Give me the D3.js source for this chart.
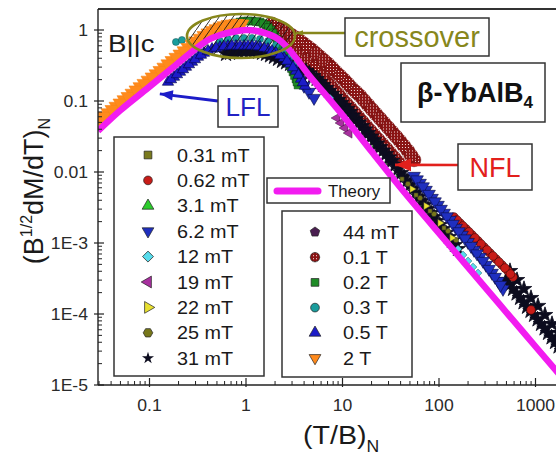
<!DOCTYPE html>
<html>
<head>
<meta charset="utf-8">
<script src="https://cdn.jsdelivr.net/npm/d3@7"></script>
<style>
  body { margin: 0; background: #fff; }
  svg { display: block; }
  text { font-family: "Liberation Sans", Arial, Helvetica, sans-serif; }
</style>
</head>
<body>
<svg id="chart" width="556" height="461"></svg>
<script>
// ---------------- data: normalized derivative vs normalized T/B ----------------
const fieldLabels = ["0.31 mT", "0.62 mT", "3.1 mT", "6.2 mT", "12 mT", "19 mT", "22 mT", "25 mT", "31 mT",
                     "44 mT", "0.1 T", "0.2 T", "0.3 T", "0.5 T", "2 T"];

const x_031mT = [41.4, 57.8, 80.7, 112.7];
const y_031mT = [0.00797, 0.00474, 0.00282, 0.00163];

const x_062mT = [143.0, 165.1, 190.5, 219.8, 253.6, 292.6, 337.7, 389.7, 449.6, 518.8, 584.5, 898.2,
                 153.7, 177.3, 204.6, 236.1, 272.4, 314.3, 362.8, 418.6, 483.0, 550.7];
const y_062mT = [0.00232, 0.00191, 0.00158, 0.0013, 0.00107, 0.000878, 0.000723, 0.000595, 0.00049, 0.000403, 0.000332, 0.000114,
                 0.002105, 0.001737, 0.001433, 0.001179, 0.000969, 0.000797, 0.000656, 0.00054, 0.000444, 0.000366];

const x_3_1mT = [15.9, 22.2, 31.1, 39.4];
const y_3_1mT = [0.0417, 0.024, 0.0138, 0.00937];

const x_6_2mT = [3.54, 3.99, 4.50, 5.07,
                 55.1, 63.6, 73.3, 84.6, 97.6, 112.7, 130.0, 150.1, 173.1, 199.8, 230.5, 266.0, 306.9, 354.2, 408.7, 460.5,
                 59.2, 68.3, 78.8, 90.9, 104.9, 121.0, 139.7, 161.2, 186.0, 214.6, 247.6, 285.7, 329.7, 380.5, 433.8];
const y_6_2mT = [0.198, 0.163, 0.134, 0.110,
                 0.00878, 0.0070, 0.00558, 0.0043, 0.00343, 0.00265, 0.00211, 0.00163, 0.0013, 0.00103, 0.000797, 0.000635, 0.00049, 0.000378, 0.000292, 0.000225,
                 0.00784, 0.00625, 0.0049, 0.00384, 0.003015, 0.002365, 0.001855, 0.001456, 0.001157, 0.000906, 0.000711, 0.000558, 0.00043, 0.000332, 0.000256];

const x_12mT = [7.42, 157.3, 177.3, 199.8, 225.0, 253.6];
const y_12mT = [0.110, 0.000823, 0.000678, 0.000558, 0.000459, 0.000378];

const x_19mT = [8.77, 9.65, 10.6, 11.7];
const y_19mT = [0.0576, 0.049, 0.0417, 0.0354];

const x_22mT = [52.5, 73.3, 102.4, 136.4];
const y_22mT = [0.00576, 0.00332, 0.00191, 0.00118];

const x_25mT = [47.7, 63.6, 88.8, 124.0, 150.1];
const y_25mT = [0.00678, 0.0043, 0.00256, 0.00148, 0.0011];

const x_31mT = [0.621, 0.751, 0.909, 1.10, 1.33, 1.61, 1.95, 2.36, 2.86, 3.46,
                4.19, 4.95, 5.85, 6.75, 7.78, 8.98, 10.4, 12.0, 13.8, 15.9,
                18.4, 21.2, 24.5, 28.2, 32.6, 37.6, 43.4, 50.1, 57.8, 66.7,
                76.9, 88.8, 102, 118, 136, 157,
                0.683, 0.826, 1.0, 1.21, 1.463, 1.772, 2.145, 2.598, 3.146, 3.808,
                4.554, 5.381, 6.284, 7.247, 8.358, 9.664, 11.17, 12.87, 14.81, 17.10,
                19.75, 22.79, 26.28, 30.32, 35.01, 40.40, 46.63, 53.81, 62.09, 71.62,
                82.64, 95.17, 109.7, 126.7, 146.1,
                495, 585, 691, 816, 965, 1140, 1348, 1593, 1882,
                538, 636, 751, 887, 1049, 1240, 1465, 1732,
                544, 643, 760, 898, 1061, 1254, 1483, 1752];
const y_31mT = [0.459, 0.49, 0.506, 0.506, 0.49, 0.459, 0.417, 0.366, 0.332, 0.301,
                0.265, 0.225, 0.185, 0.152, 0.126, 0.103, 0.085, 0.07, 0.0558, 0.0445,
                0.0354, 0.0282, 0.0225, 0.0179, 0.0143, 0.011, 0.0085, 0.00656, 0.00506, 0.0039,
                0.00301, 0.00232, 0.00179, 0.00138, 0.00107, 0.000823,
                0.4742, 0.4979, 0.506, 0.4979, 0.4742, 0.4375, 0.3907, 0.3486, 0.3161, 0.2824,
                0.2442, 0.204, 0.1677, 0.1384, 0.1139, 0.09357, 0.07714, 0.0625, 0.04983, 0.03969,
                0.0316, 0.02519, 0.02007, 0.016, 0.01254, 0.00967, 0.007467, 0.005761, 0.004442, 0.003426,
                0.002643, 0.002038, 0.001572, 0.001215, 0.000938,
                0.000301, 0.000225, 0.000168, 0.000126, 9.68e-5, 7.23e-5, 5.4e-5, 4.03e-5, 3.01e-5,
                0.00026, 0.000194, 0.0001455, 0.0001104, 8.37e-5, 6.25e-5, 4.67e-5, 3.48e-5,
                0.000403, 0.000301, 0.000225, 0.000168, 0.00013, 9.68e-5, 7.23e-5, 5.4e-5];

const x_44mT = [7.42, 9.88, 13.2, 17.5, 23.3, 31.1];
const y_44mT = [0.134, 0.085, 0.054, 0.0343, 0.0218, 0.0138];

const x_01T = [1.77, 2.15, 2.60, 3.14, 3.81, 4.60, 5.57, 6.75, 8.17, 9.88, 12.0, 14.5, 17.5, 21.2, 25.7, 31.1, 37.6,
               1.951, 2.364, 2.857, 3.459, 4.186, 5.062, 6.132, 7.426, 8.984, 10.89, 13.19, 15.93, 19.26, 23.34, 28.27, 34.2,
               1.86, 2.25, 2.72, 3.30, 3.99, 4.83, 5.85, 7.08, 8.56, 10.4, 12.5, 15.2, 18.4, 22.2, 26.9, 32.6, 39.4, 47.7, 55.1,
               2.046, 2.474, 2.996, 3.629, 4.39, 5.316, 6.436, 7.785, 9.435, 11.4, 13.78, 16.72, 20.21, 24.44, 29.61, 35.84, 43.35, 51.27];
const y_01T = [1.0, 0.823, 0.656, 0.523, 0.417, 0.332, 0.256, 0.191, 0.143, 0.107, 0.0797, 0.0595, 0.0445, 0.0332, 0.0248, 0.0185, 0.0138,
               0.9072, 0.7348, 0.5857, 0.467, 0.3721, 0.2915, 0.2211, 0.1653, 0.1237, 0.09235, 0.06886, 0.05146, 0.03844, 0.02869, 0.02142, 0.01598,
               1.215, 1.067, 0.907, 0.772, 0.635, 0.523, 0.417, 0.332, 0.256, 0.198, 0.152, 0.118, 0.0878, 0.0656, 0.049, 0.0366, 0.0273, 0.0198, 0.0148,
               1.1386, 0.9838, 0.8368, 0.7002, 0.5763, 0.467, 0.3721, 0.2915, 0.2251, 0.1735, 0.1339, 0.1018, 0.0759, 0.0567, 0.04235, 0.03161, 0.02325, 0.01712];

const x_02T = [0.788, 0.954, 1.154, 1.397, 1.612, 1.816, 1.998, 2.198, 2.417, 2.660, 2.857, 3.069, 3.297, 3.459,
               0.867, 1.049, 1.270, 1.501, 1.711, 1.905, 2.096, 2.305, 2.536, 2.757, 2.961, 3.181, 3.377];
const y_02T = [1.255, 1.339, 1.339, 1.296, 1.176, 1.0, 0.823, 0.656, 0.523, 0.403, 0.321, 0.256, 0.204, 0.168,
               1.296, 1.339, 1.317, 1.235, 1.084, 0.9072, 0.7348, 0.5857, 0.4591, 0.3597, 0.2867, 0.2285, 0.1851];

const x_03T = [0.188, 0.217, 0.538, 0.651, 0.788, 0.954, 1.154, 1.397, 1.690, 2.046, 2.417, 2.857, 3.297];
const y_03T = [0.678, 0.723, 0.700, 0.747, 0.772, 0.772, 0.772, 0.747, 0.700, 0.615, 0.523, 0.417, 0.332];

const x_05T = [0.1555, 0.1795, 0.2071, 0.2388, 0.2757, 0.3181, 0.3671, 0.4443, 0.5378, 0.6509, 0.7878,
               0.9535, 1.154, 1.397, 1.690, 2.046, 2.476, 2.857, 3.297, 3.715, 4.088,
               0.1671, 0.1928, 0.2224, 0.2566, 0.2961, 0.3417, 0.4039, 0.4888, 0.5917, 0.7161,
               0.8667, 1.049, 1.270, 1.537, 1.860, 2.251, 2.660, 3.069, 3.500, 3.897];
const y_05T = [0.1852, 0.2178, 0.2561, 0.3012, 0.3542, 0.4166, 0.4743, 0.540, 0.5762, 0.5952, 0.5952,
               0.5952, 0.5952, 0.5762, 0.540, 0.4743, 0.4033, 0.332, 0.2645, 0.2041, 0.1626,
               0.2008, 0.2362, 0.2777, 0.3266, 0.3841, 0.4445, 0.5061, 0.5578, 0.5856, 0.5952,
               0.5952, 0.5952, 0.5856, 0.5578, 0.5061, 0.4374, 0.3659, 0.2963, 0.2323, 0.1822];

const x_2T = [0.0307, 0.0371, 0.0450, 0.0544, 0.0659, 0.0797, 0.0965, 0.117, 0.141, 0.171,
              0.207, 0.251, 0.303, 0.367, 0.444, 0.538, 0.651, 0.788, 0.909,
              0.03375, 0.04086, 0.04948, 0.05987, 0.07247, 0.0877, 0.1063, 0.1284, 0.1553,
              0.1881, 0.2279, 0.2758, 0.3335, 0.4037, 0.4887, 0.5918, 0.7162, 0.8463];
const y_2T = [0.0550, 0.0682, 0.0842, 0.1040, 0.1285, 0.1589, 0.1963, 0.2412, 0.2994, 0.3705,
              0.4576, 0.5650, 0.700, 0.8367, 0.984, 1.102, 1.195, 1.235, 1.215,
              0.06125, 0.07578, 0.09358, 0.1156, 0.1429, 0.1766, 0.2176, 0.2687, 0.3331,
              0.4118, 0.5085, 0.6289, 0.7653, 0.9074, 1.0413, 1.1476, 1.2148, 1.225];

// theory curve
const theoryX = [0.0293, 0.0495, 0.0965, 0.188, 0.303, 0.404, 0.538, 0.716, 1.0, 1.3, 1.69, 2.15,
                 2.6, 3.3, 4.39, 6.43, 10.4, 20.2, 39.4, 130, 429, 1010, 1790];
const theoryY = [0.038, 0.0732, 0.153, 0.322, 0.547, 0.723, 0.85, 0.937, 1.0, 0.97, 0.878, 0.747,
                 0.595, 0.403, 0.24, 0.13, 0.0595, 0.0191, 0.00615, 0.000907, 0.000134, 3.43e-5, 1.38e-5];

// axes
const xTickValues = [0.1, 1, 10, 100, 1000];
const xTickLabels = ["0.1", "1", "10", "100", "1000"];
const yTickValues = [1, 0.1, 0.01, 1e-3, 1e-4, 1e-5];
const yTickLabels = ["1", "0.1", "0.01", "1E-3", "1E-4", "1E-5"];

// ---------------- layout ----------------
const svg = d3.select("#chart");
const pL = 98, pR = 556, pT = 9, pB = 385;
const X = d3.scaleLog().domain([0.1, 1000]).range([149.5, 535.5]);
const Y = d3.scaleLog().domain([1e-5, 1]).range([385, 30]);

const defs = svg.append("defs");
defs.append("clipPath").attr("id", "plotClip")
  .append("rect").attr("x", pL).attr("y", pT).attr("width", 520).attr("height", pB - pT);

// dotted fill for the 0.1 T markers
const dots = defs.append("pattern").attr("id", "redDots")
  .attr("width", 3).attr("height", 3).attr("patternUnits", "userSpaceOnUse");
dots.append("rect").attr("width", 3).attr("height", 3).attr("fill", "#8a1414");
dots.append("rect").attr("x", 1).attr("y", 1).attr("width", 1).attr("height", 1).attr("fill", "#f4e0e0");

// diagonal hatch for the crossover region
const hatch = defs.append("pattern").attr("id", "hatch")
  .attr("width", 7).attr("height", 10).attr("patternUnits", "userSpaceOnUse");
hatch.append("path").attr("d", "M0,10 L7,0").attr("stroke", "#111").attr("stroke-width", 1);

// custom marker shapes
const hexagon = { draw(ctx, size) { const r = Math.sqrt(size / 2.598);
  for (let i = 0; i < 6; i++) { const a = Math.PI / 3 * i; i ? ctx.lineTo(r * Math.cos(a), r * Math.sin(a)) : ctx.moveTo(r, 0); }
  ctx.closePath(); } };
const pentagon = { draw(ctx, size) { const r = Math.sqrt(size / 2.378);
  for (let i = 0; i < 5; i++) { const a = -Math.PI / 2 + 2 * Math.PI / 5 * i; const px = r * Math.cos(a), py = r * Math.sin(a);
    i ? ctx.lineTo(px, py) : ctx.moveTo(px, py); }
  ctx.closePath(); } };

const shapes = {
  square: [d3.symbolSquare, 0], circle: [d3.symbolCircle, 0], up: [d3.symbolTriangle, 0],
  down: [d3.symbolTriangle, 180], left: [d3.symbolTriangle, -90], right: [d3.symbolTriangle, 90],
  diamond: [d3.symbolSquare, 45], star: [d3.symbolStar, 0], hex: [hexagon, 0], pent: [pentagon, 0]
};

const series = [
  { label: fieldLabels[0],  xs: x_031mT, ys: y_031mT, shape: "square",  fill: "#7a7a1e", stroke: "#222", sw: 0.5, size: 18 },
  { label: fieldLabels[1],  xs: x_062mT, ys: y_062mT, shape: "circle",  fill: "#c81c18", stroke: "#3a0808", sw: 0.6, size: 60 },
  { label: fieldLabels[2],  xs: x_3_1mT, ys: y_3_1mT, shape: "up",      fill: "#2ccc2c", stroke: "#113311", sw: 0.5, size: 35 },
  { label: fieldLabels[3],  xs: x_6_2mT, ys: y_6_2mT, shape: "down",    fill: "#1f2fbf", stroke: "#0a0a40", sw: 0.6, size: 70 },
  { label: fieldLabels[4],  xs: x_12mT,  ys: y_12mT,  shape: "diamond", fill: "#58dcec", stroke: "#1a5a6a", sw: 0.5, size: 30 },
  { label: fieldLabels[5],  xs: x_19mT,  ys: y_19mT,  shape: "left",    fill: "#a8309f", stroke: "#300a30", sw: 0.5, size: 45 },
  { label: fieldLabels[6],  xs: x_22mT,  ys: y_22mT,  shape: "right",   fill: "#e8e030", stroke: "#333", sw: 0.5, size: 25 },
  { label: fieldLabels[7],  xs: x_25mT,  ys: y_25mT,  shape: "hex",     fill: "#76761a", stroke: "#222", sw: 0.4, size: 22 },
  { label: fieldLabels[8],  xs: x_31mT,  ys: y_31mT,  shape: "star",    fill: "#0c0c1e", stroke: "#0c0c1e", sw: 0.8, size: 75 },
  { label: fieldLabels[9],  xs: x_44mT,  ys: y_44mT,  shape: "pent",    fill: "#4a1e50", stroke: "#1a0a1a", sw: 0.5, size: 45 },
  { label: fieldLabels[10], xs: x_01T,   ys: y_01T,   shape: "circle",  fill: "url(#redDots)", stroke: "#6a0c0c", sw: 0.4, size: 150 },
  { label: fieldLabels[11], xs: x_02T,   ys: y_02T,   shape: "square",  fill: "#1e8c26", stroke: "#0a3a0a", sw: 0.5, size: 60 },
  { label: fieldLabels[12], xs: x_03T,   ys: y_03T,   shape: "circle",  fill: "#1a9c9c", stroke: "#0a3a3a", sw: 0.4, size: 40 },
  { label: fieldLabels[13], xs: x_05T,   ys: y_05T,   shape: "up",      fill: "#1c1cc8", stroke: "#000040", sw: 0.6, size: 55 },
  { label: fieldLabels[14], xs: x_2T,    ys: y_2T,    shape: "down",    fill: "#ff8a1c", stroke: "#f88416", sw: 0.6, size: 85 }
];
const byLabel = Object.fromEntries(series.map(s => [s.label, s]));

// stacking order of the data sets
const drawOrder = ["3.1 mT", "44 mT", "0.1 T", "31 mT", "0.62 mT", "25 mT", "0.31 mT", "22 mT", "12 mT", "6.2 mT",
                   "19 mT", "0.2 T", "0.3 T", "0.5 T", "2 T"];

function markerPath(s, size) { const [type] = shapes[s.shape]; return d3.symbol(type, size)(); }
function rot(s) { return shapes[s.shape][1]; }

// ---------------- plot contents ----------------
const plot = svg.append("g").attr("clip-path", "url(#plotClip)");

drawOrder.forEach(name => {
  const s = byLabel[name];
  plot.append("g").selectAll("path").data(d3.zip(s.xs, s.ys)).join("path")
    .attr("transform", d => `translate(${X(d[0])},${Y(d[1])}) rotate(${rot(s)})`)
    .attr("d", markerPath(s, s.size))
    .attr("fill", s.fill).attr("stroke", s.stroke).attr("stroke-width", s.sw);
});

// crossover region
const ell = { cx: X(0.887), cy: Y(0.823), rx: 54, ry: 22 };
plot.append("ellipse").attr("cx", ell.cx).attr("cy", ell.cy).attr("rx", ell.rx).attr("ry", ell.ry)
  .attr("fill", "url(#hatch)").attr("opacity", 0.85);

// theory curve
const theoryLine = d3.line().x(d => X(d[0])).y(d => Y(d[1])).curve(d3.curveMonotoneX);
plot.append("path").datum(d3.zip(theoryX, theoryY)).attr("d", theoryLine)
  .attr("fill", "none").attr("stroke", "#f21cf0").attr("stroke-width", 6.5);

plot.append("ellipse").attr("cx", ell.cx).attr("cy", ell.cy).attr("rx", ell.rx).attr("ry", ell.ry)
  .attr("fill", "none").attr("stroke", "#87871c").attr("stroke-width", 2.6);

// ---------------- axes ----------------
const axis = svg.append("g").attr("stroke", "#222");
axis.append("line").attr("x1", pL).attr("x2", pR).attr("y1", pT).attr("y2", pT).attr("stroke-width", 2).attr("stroke", "#333");
axis.append("line").attr("x1", pL).attr("x2", pL).attr("y1", pT).attr("y2", pB).attr("stroke-width", 1.4);
axis.append("line").attr("x1", pL).attr("x2", pR).attr("y1", pB).attr("y2", pB).attr("stroke-width", 1.4);

const xMin = X.invert(pL), xMax = X.invert(pR);
const xMinor = [];
for (let d = -2; d <= 3; d++) for (let m = 2; m <= 9; m++) { const v = m * Math.pow(10, d); if (v > xMin && v < xMax) xMinor.push(v); }
axis.selectAll(".xminor").data(xMinor).join("line")
  .attr("x1", d => X(d)).attr("x2", d => X(d)).attr("y1", pB).attr("y2", pB - 4).attr("stroke-width", 1);
axis.selectAll(".xmajor").data(xTickValues).join("line")
  .attr("x1", d => X(d)).attr("x2", d => X(d)).attr("y1", pB + 2).attr("y2", pB - 7).attr("stroke-width", 1.2);

const yMax = Y.invert(pT);
const yMinor = [];
for (let d = -5; d <= 0; d++) for (let m = 2; m <= 9; m++) { const v = m * Math.pow(10, d); if (v < yMax) yMinor.push(v); }
axis.selectAll(".yminor").data(yMinor).join("line")
  .attr("x1", pL).attr("x2", pL + 4).attr("y1", d => Y(d)).attr("y2", d => Y(d)).attr("stroke-width", 1);
axis.selectAll(".ymajor").data(yTickValues).join("line")
  .attr("x1", pL - 4).attr("x2", pL + 6).attr("y1", d => Y(d)).attr("y2", d => Y(d)).attr("stroke-width", 1.2);

// stretched text helper
function txt(g, x, y, str, o = {}) {
  const t = g.append("text")
    .attr("transform", `translate(${x},${y}) scale(${o.sx || 1},1)`)
    .attr("font-size", o.size || 16).attr("text-anchor", o.anchor || "start")
    .attr("font-weight", o.weight || "normal").attr("fill", o.fill || "#1a1a1a");
  if (str !== null) t.text(str);
  return t;
}

const labels = svg.append("g");
xTickValues.forEach((v, i) => txt(labels, X(v), 411, xTickLabels[i], { size: 16, sx: 1.1, anchor: "middle", fill: "#2a2a2a" }));
yTickValues.forEach((v, i) => txt(labels, 88, Y(v) + 6, yTickLabels[i], { size: 16, sx: 1.1, anchor: "end", fill: "#2a2a2a" }));

// axis titles
const xt = txt(labels, 303, 444, null, { size: 26, sx: 1.1 });
xt.append("tspan").text("(T/B)");
xt.append("tspan").attr("font-size", 16).attr("dy", 8).text("N");

const yt = svg.append("text").attr("transform", "translate(43,191) rotate(-90)")
  .attr("font-size", 27).attr("text-anchor", "middle").attr("fill", "#1a1a1a");
yt.append("tspan").text("(B");
yt.append("tspan").attr("font-size", 16).attr("dy", -11).text("1/2");
yt.append("tspan").attr("dy", 11).text("dM/dT)");
yt.append("tspan").attr("font-size", 16).attr("dy", 7).text("N");

// ---------------- annotations ----------------
const ann = svg.append("g");
txt(ann, 108, 52, "B||c", { size: 23, sx: 1.2 });

function box(x, y, w, h) {
  ann.append("rect").attr("x", x).attr("y", y).attr("width", w).attr("height", h)
    .attr("fill", "#fff").attr("stroke", "#333").attr("stroke-width", 1.5);
}
function arrow(x1, y1, x2, y2, color, w, head) {
  ann.append("line").attr("x1", x1).attr("y1", y1).attr("x2", x2).attr("y2", y2)
    .attr("stroke", color).attr("stroke-width", w);
  const a = Math.atan2(y2 - y1, x2 - x1) * 180 / Math.PI;
  ann.append("path").attr("d", `M0,0 L${-head},${-head * 0.4} L${-head},${head * 0.4} Z`)
    .attr("transform", `translate(${x2},${y2}) rotate(${a})`).attr("fill", color);
}

// crossover label
arrow(345, 33, ell.cx + ell.rx + 1, 33, "#87871c", 2.6, 7);
box(345, 18, 144, 38);
txt(ann, 417, 47, "crossover", { size: 29, anchor: "middle", fill: "#87871c" });

// compound label
box(401, 63, 144, 59);
const cmp = txt(ann, 417, 102, null, { size: 27, weight: "bold", fill: "#111" });
cmp.append("tspan").text("β-YbAlB");
cmp.append("tspan").attr("font-size", 17).attr("dy", 6).text("4");

// LFL label
arrow(218, 101, X(0.128), Y(0.126), "#1c1cc8", 3, 13);
box(218, 86, 60, 41);
txt(ann, 248, 116, "LFL", { size: 26, anchor: "middle", fill: "#2222c4" });

// NFL label
arrow(458, 165, X(35), Y(0.0126), "#e2201c", 2.6, 16);
box(458, 144, 74, 46);
txt(ann, 495, 177, "NFL", { size: 27, anchor: "middle", fill: "#e2201c" });

// ---------------- legends ----------------
const leg = svg.append("g");
function legendMarker(s, cx, cy, size) {
  leg.append("path").attr("transform", `translate(${cx},${cy}) rotate(${rot(s)})`)
    .attr("d", markerPath(s, size)).attr("fill", s.fill)
    .attr("stroke", s.shape === "star" ? "none" : "#222").attr("stroke-width", 0.7);
}
// low fields
leg.append("rect").attr("x", 114).attr("y", 137).attr("width", 150).attr("height", 239)
  .attr("fill", "#fff").attr("stroke", "#333").attr("stroke-width", 1.5);
series.slice(0, 9).forEach((s, i) => {
  const cy = 155 + i * 25.4;
  legendMarker(s, 148, cy, s.shape === "star" ? 45 : 60);
  txt(leg, 177, cy + 6.5, s.label, { size: 18, sx: 1.1 });
});
// theory
leg.append("rect").attr("x", 267).attr("y", 178).attr("width", 123).attr("height", 25)
  .attr("fill", "#fff").attr("stroke", "#333").attr("stroke-width", 1.5);
leg.append("line").attr("x1", 277).attr("x2", 318).attr("y1", 191).attr("y2", 191)
  .attr("stroke", "#f21cf0").attr("stroke-width", 7).attr("stroke-linecap", "round");
txt(leg, 328, 197, "Theory", { size: 16, sx: 1.05 });
// high fields
leg.append("rect").attr("x", 282).attr("y", 211).attr("width", 130).attr("height", 166)
  .attr("fill", "#fff").attr("stroke", "#333").attr("stroke-width", 1.5);
series.slice(9).forEach((s, i) => {
  const cy = 232 + i * 25.2;
  legendMarker(s, 315, cy, s.label === "0.1 T" ? 70 : 60);
  txt(leg, 343, cy + 6.5, s.label, { size: 18, sx: 1.1 });
});
</script>
</body>
</html>
